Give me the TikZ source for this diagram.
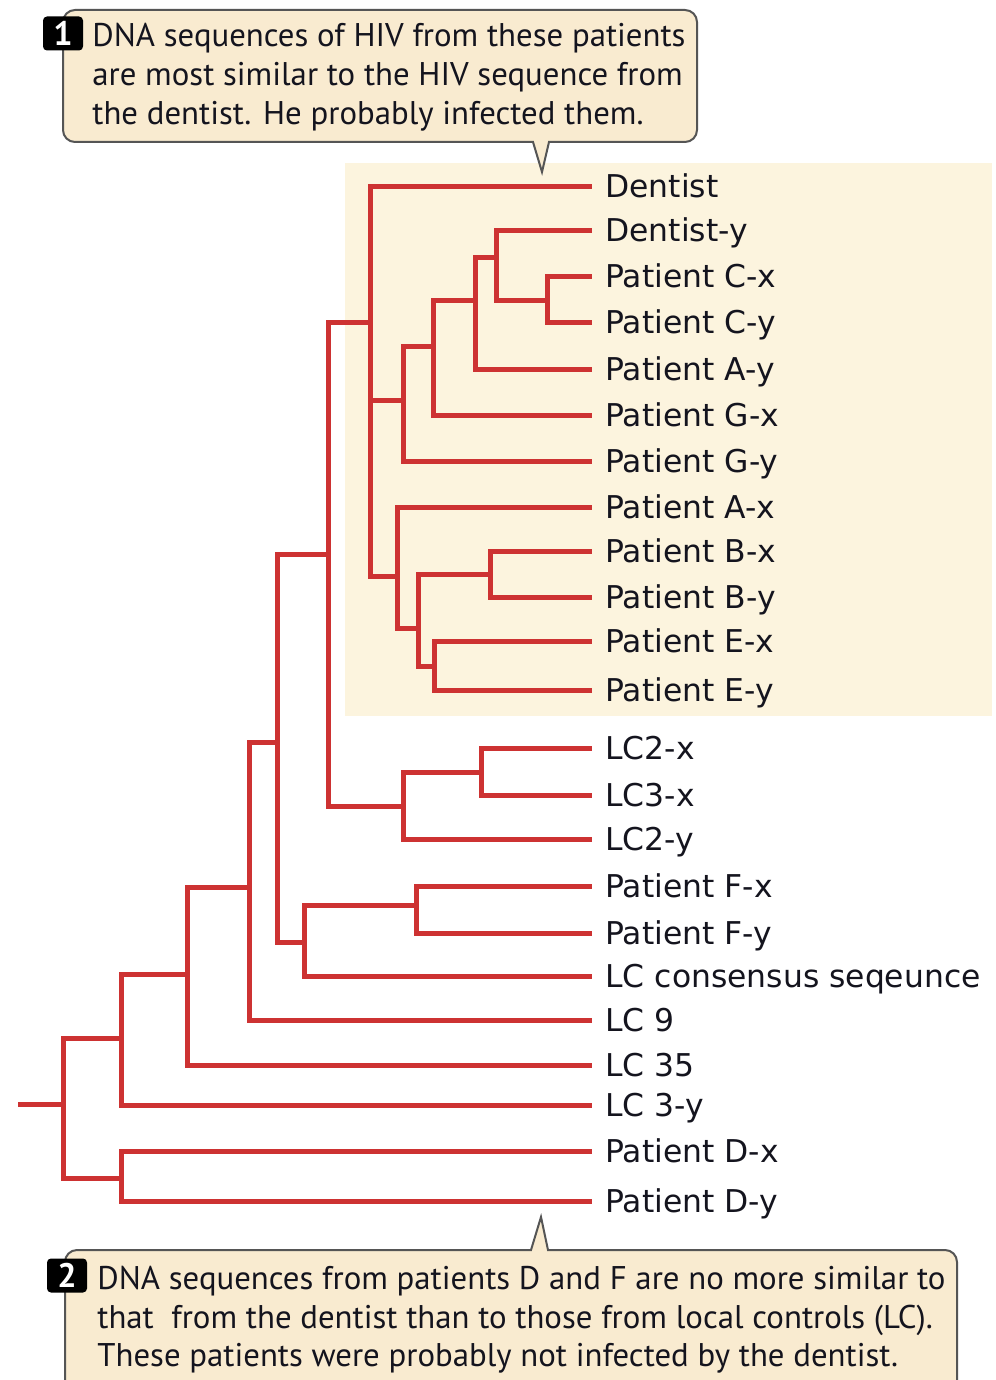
\documentclass[tikz,border=0pt]{standalone}
\usepackage{fontspec}
\setmainfont{DejaVu Sans}
\newfontfamily\callfont{PT Sans}
\definecolor{treered}{RGB}{205,50,50}
\definecolor{hl}{RGB}{252,244,222}
\definecolor{callfill}{RGB}{249,235,208}
\definecolor{callborder}{RGB}{85,85,85}
\definecolor{textcol}{RGB}{20,20,30}
\begin{document}
\begin{tikzpicture}[x=0.5pt,y=-0.5pt,
  branch/.style={draw=treered, line width=2.5pt, line join=miter},
  leaflabel/.style={anchor=base west, inner sep=0pt, font=\fontsize{15.7}{18}\selectfont, text=textcol},
  calltext/.style={anchor=base west, inner sep=0pt, font=\callfont\fontsize{16.4}{19}\selectfont, text=textcol},
  badge/.style={fill=black, rounded corners=2pt, text=white, font=\callfont\bfseries\fontsize{17}{17}\selectfont, minimum width=20pt, minimum height=17pt, inner sep=0pt},
  callout/.style={fill=callfill, draw=callborder, line width=1pt}
]
\useasboundingbox (0,0) rectangle (995,1380);
\clip (0,0) rectangle (995,1380);
\fill[white] (0,0) rectangle (995,1380);
% highlight
\fill[hl] (345,163) rectangle (992,716);
% callouts
\path[callout] (533,142) -- (542,172) -- (549,142) -- (600,142) [rounded corners=6] -- (697,142) -- (697,10) -- (63,10) -- (63,142) -- (400,142) [sharp corners] -- cycle;
\path[callout] (531,1250) -- (541,1217) -- (548,1250) -- (700,1250) [rounded corners=6] -- (957,1250) -- (957,1420) -- (65,1420) -- (65,1250) -- (400,1250) [sharp corners] -- cycle;
\node[badge] (b1) at (63,33.5) {1};
\node[badge] (b2) at (67,1275.5) {2};
\node[calltext] (c1a) at (92,47) {DNA sequences of HIV from these patients};
\node[calltext] (c1b) at (92,86) {are most similar to the HIV sequence from};
\node[calltext] (c1c) at (92,125) {the dentist. He probably infected them.};
\node[calltext] (c2a) at (97,1289) {DNA sequences from patients D and F are no more similar to};
\node[calltext] (c2b) at (97,1328) {that\ \ from the dentist than to those from local controls (LC).};
\node[calltext] (c2c) at (97,1366) {These patients were probably not infected by the dentist.};
% leaves
\foreach \n/\y/\t in {1/187/Dentist, 2/231/Dentist-y, 3/276/Patient C-x, 4/322/Patient C-y,
  5/369/Patient A-y, 6/415/Patient G-x, 7/461/Patient G-y, 8/507/Patient A-x,
  9/551/Patient B-x, 10/597/Patient B-y, 11/641/Patient E-x, 12/690/Patient E-y,
  13/748/LC2-x, 14/795/LC3-x, 15/839/LC2-y, 16/886/Patient F-x, 17/933/Patient F-y,
  18/976/LC consensus seqeunce, 19/1020/LC 9, 20/1065/LC 35, 21/1105/LC 3-y,
  22/1151/Patient D-x, 23/1201/Patient D-y}{
  \coordinate (l\n) at (592,\y);
  \node[leaflabel] (t\n) at (605,{\y+11}) {\t};
}
% internal nodes
\coordinate (stub) at (18,1104);
\coordinate (r) at (63,1104);
\coordinate (a) at (121,1038);
\coordinate (d) at (121,1178);
\coordinate (b) at (187,974);
\coordinate (c) at (249,887);
\coordinate (e) at (277,742);
\coordinate (g) at (304,942);
\coordinate (h) at (416,905);
\coordinate (f) at (328,554);
\coordinate (j) at (403,806);
\coordinate (k) at (481,772);
\coordinate (i) at (370,322);
\coordinate (P) at (403,400);
\coordinate (R) at (433,346);
\coordinate (S) at (475,300);
\coordinate (T) at (496,257);
\coordinate (U) at (547,300);
\coordinate (Q) at (397,576);
\coordinate (V) at (418,628);
\coordinate (W) at (490,574);
\coordinate (X) at (434,666);
% branches
\draw[branch] (stub) -- (r);
\draw[branch] (r) |- (a) (r) |- (d);
\draw[branch] (d) |- (l22) (d) |- (l23);
\draw[branch] (a) |- (b) (a) |- (l21);
\draw[branch] (b) |- (c) (b) |- (l20);
\draw[branch] (c) |- (e) (c) |- (l19);
\draw[branch] (e) |- (f) (e) |- (g);
\draw[branch] (g) |- (h) (g) |- (l18);
\draw[branch] (h) |- (l16) (h) |- (l17);
\draw[branch] (f) |- (i) (f) |- (j);
\draw[branch] (j) |- (k) (j) |- (l15);
\draw[branch] (k) |- (l13) (k) |- (l14);
\draw[branch] (i) |- (l1) (i) |- (P) (i) |- (Q);
\draw[branch] (P) |- (R) (P) |- (l7);
\draw[branch] (R) |- (S) (R) |- (l6);
\draw[branch] (S) |- (T) (S) |- (l5);
\draw[branch] (T) |- (l2) (T) |- (U);
\draw[branch] (U) |- (l3) (U) |- (l4);
\draw[branch] (Q) |- (l8) (Q) |- (V);
\draw[branch] (V) |- (W) (V) |- (X);
\draw[branch] (W) |- (l9) (W) |- (l10);
\draw[branch] (X) |- (l11) (X) |- (l12);
\end{tikzpicture}
\end{document}
